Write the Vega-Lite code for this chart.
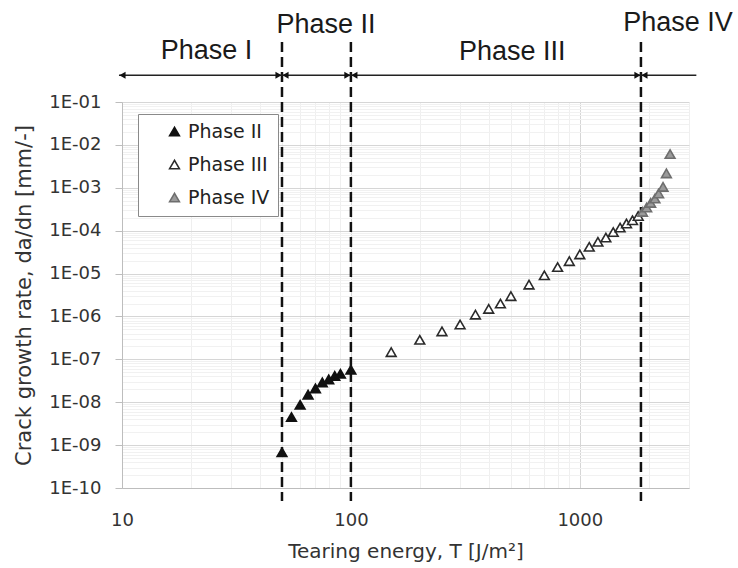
{
  "$schema": "https://vega.github.io/schema/vega-lite/v6.json",
  "width": 567,
  "height": 386,
  "autosize": {"type": "none"},
  "padding": {"left": 122, "top": 102, "right": 49, "bottom": 80},
  "background": "white",
  "config": {"view": {"stroke": null}, "font": "DejaVu Sans"},
  "datasets": {
    "pts": [
      {"T": 50, "dadn": 6.8e-10, "phase": "Phase II"},
      {"T": 55, "dadn": 4.5e-9, "phase": "Phase II"},
      {"T": 60, "dadn": 8.7e-9, "phase": "Phase II"},
      {"T": 65, "dadn": 1.5e-8, "phase": "Phase II"},
      {"T": 70, "dadn": 2.1e-8, "phase": "Phase II"},
      {"T": 75, "dadn": 2.9e-8, "phase": "Phase II"},
      {"T": 80, "dadn": 3.4e-8, "phase": "Phase II"},
      {"T": 85, "dadn": 4.1e-8, "phase": "Phase II"},
      {"T": 90, "dadn": 4.6e-8, "phase": "Phase II"},
      {"T": 100, "dadn": 5.7e-8, "phase": "Phase II"},
      {"T": 150, "dadn": 1.47e-7, "phase": "Phase III"},
      {"T": 200, "dadn": 2.86e-7, "phase": "Phase III"},
      {"T": 250, "dadn": 4.47e-7, "phase": "Phase III"},
      {"T": 300, "dadn": 6.5e-7, "phase": "Phase III"},
      {"T": 350, "dadn": 1.1e-6, "phase": "Phase III"},
      {"T": 400, "dadn": 1.5e-6, "phase": "Phase III"},
      {"T": 450, "dadn": 2.0e-6, "phase": "Phase III"},
      {"T": 500, "dadn": 2.98e-6, "phase": "Phase III"},
      {"T": 600, "dadn": 5.5e-6, "phase": "Phase III"},
      {"T": 700, "dadn": 9.1e-6, "phase": "Phase III"},
      {"T": 800, "dadn": 1.42e-5, "phase": "Phase III"},
      {"T": 900, "dadn": 1.95e-5, "phase": "Phase III"},
      {"T": 1000, "dadn": 2.8e-5, "phase": "Phase III"},
      {"T": 1100, "dadn": 4.2e-5, "phase": "Phase III"},
      {"T": 1200, "dadn": 5.5e-5, "phase": "Phase III"},
      {"T": 1300, "dadn": 6.9e-5, "phase": "Phase III"},
      {"T": 1400, "dadn": 9.3e-5, "phase": "Phase III"},
      {"T": 1500, "dadn": 1.18e-4, "phase": "Phase III"},
      {"T": 1600, "dadn": 1.47e-4, "phase": "Phase III"},
      {"T": 1700, "dadn": 1.75e-4, "phase": "Phase III"},
      {"T": 1800, "dadn": 2.2e-4, "phase": "Phase III"},
      {"T": 1880, "dadn": 2.74e-4, "phase": "Phase IV"},
      {"T": 1960, "dadn": 3.47e-4, "phase": "Phase IV"},
      {"T": 2040, "dadn": 4.43e-4, "phase": "Phase IV"},
      {"T": 2130, "dadn": 5.62e-4, "phase": "Phase IV"},
      {"T": 2210, "dadn": 7.36e-4, "phase": "Phase IV"},
      {"T": 2310, "dadn": 1.05e-3, "phase": "Phase IV"},
      {"T": 2390, "dadn": 2.16e-3, "phase": "Phase IV"},
      {"T": 2480, "dadn": 6.1e-3, "phase": "Phase IV"}
    ],
    "bounds": [
      {"T": 50, "dadn": 2.5, "bottom": 5e-11},
      {"T": 100, "dadn": 2.5, "bottom": 5e-11},
      {"T": 1850, "dadn": 2.5, "bottom": 5e-11}
    ],
    "arrow": [{"T": 9.7, "T2": 3230, "dadn": 0.42}],
    "headsR": [
      {"T": 50, "dadn": 0.42},
      {"T": 100, "dadn": 0.42},
      {"T": 1850, "dadn": 0.42}
    ],
    "headsL": [
      {"T": 9.7, "dadn": 0.42},
      {"T": 50, "dadn": 0.42},
      {"T": 100, "dadn": 0.42},
      {"T": 1850, "dadn": 0.42}
    ],
    "labels": [
      {"T": 23.4, "dadn": 1.0, "text": "Phase I"},
      {"T": 77.8, "dadn": 4.16, "text": "Phase II"},
      {"T": 507, "dadn": 0.96, "text": "Phase III"},
      {"T": 2686, "dadn": 4.64, "text": "Phase IV"}
    ]
  },
  "layer": [
    {
      "data": {"name": "bounds"},
      "mark": {"type": "rule", "strokeDash": [10, 5], "strokeWidth": 2.5, "color": "#111111"},
      "encoding": {
        "x": {"field": "T", "type": "quantitative", "scale": {"type": "log"}},
        "y": {"field": "dadn", "type": "quantitative", "scale": {"type": "log"}},
        "y2": {"field": "bottom"}
      }
    },
    {
      "data": {"name": "arrow"},
      "mark": {"type": "rule", "strokeWidth": 1.5, "color": "#222222"},
      "encoding": {
        "x": {"field": "T", "type": "quantitative", "scale": {"type": "log"}},
        "x2": {"field": "T2"},
        "y": {"field": "dadn", "type": "quantitative", "scale": {"type": "log"}}
      }
    },
    {
      "data": {"name": "headsR"},
      "mark": {"type": "point", "shape": "triangle-right", "filled": true, "size": 50, "color": "#111111", "opacity": 1, "xOffset": -3.5},
      "encoding": {
        "x": {"field": "T", "type": "quantitative", "scale": {"type": "log"}},
        "y": {"field": "dadn", "type": "quantitative", "scale": {"type": "log"}}
      }
    },
    {
      "data": {"name": "headsL"},
      "mark": {"type": "point", "shape": "triangle-left", "filled": true, "size": 50, "color": "#111111", "opacity": 1, "xOffset": 3.5},
      "encoding": {
        "x": {"field": "T", "type": "quantitative", "scale": {"type": "log"}},
        "y": {"field": "dadn", "type": "quantitative", "scale": {"type": "log"}}
      }
    },
    {
      "data": {"name": "labels"},
      "mark": {"type": "text", "font": "Liberation Sans", "fontSize": 27, "align": "center", "baseline": "alphabetic", "color": "#1a1a1a"},
      "encoding": {
        "x": {"field": "T", "type": "quantitative", "scale": {"type": "log"}},
        "y": {"field": "dadn", "type": "quantitative", "scale": {"type": "log"}},
        "text": {"field": "text", "type": "nominal"}
      }
    },
    {
      "data": {"name": "pts"},
      "mark": {"type": "point", "shape": "triangle-up", "filled": true, "size": 95, "strokeWidth": 1.6, "opacity": 1},
      "encoding": {
        "x": {
          "field": "T", "type": "quantitative",
          "scale": {"type": "log", "domain": [10, 3000], "nice": false},
          "axis": {
            "title": "Tearing energy, T [J/m²]",
            "values": [10, 20, 30, 40, 50, 60, 70, 80, 90, 100, 200, 300, 400, 500, 600, 700, 800, 900, 1000, 2000, 3000],
            "grid": true,
            "gridColor": {"condition": {"test": "abs(log(datum.value)/LN10 - round(log(datum.value)/LN10)) < 0.001", "value": "#d6d6d6"}, "value": "#efefef"},
            "ticks": false,
            "tickSize": 0,
            "domainColor": "#bdbdbd",
            "format": "d",
            "labelExpr": "abs(log(datum.value)/LN10 - round(log(datum.value)/LN10)) < 0.001 ? datum.label : ''",
            "labelOverlap": false,
            "labelFlush": false,
            "labelFont": "DejaVu Sans",
            "labelFontSize": 18,
            "labelColor": "#333333",
            "labelPadding": 23,
            "titleFont": "DejaVu Sans",
            "titleFontSize": 20,
            "titleFontWeight": "normal",
            "titleColor": "#333333",
            "titlePadding": 12
          }
        },
        "y": {
          "field": "dadn", "type": "quantitative",
          "scale": {"type": "log", "domain": [1e-10, 0.1], "nice": false},
          "axis": {
            "title": "Crack growth rate, da/dn [mm/-]",
            "values": [1e-10, 2e-10, 3e-10, 4e-10, 5e-10, 6e-10, 7e-10, 8e-10, 9e-10,
                       1e-9, 2e-9, 3e-9, 4e-9, 5e-9, 6e-9, 7e-9, 8e-9, 9e-9,
                       1e-8, 2e-8, 3e-8, 4e-8, 5e-8, 6e-8, 7e-8, 8e-8, 9e-8,
                       1e-7, 2e-7, 3e-7, 4e-7, 5e-7, 6e-7, 7e-7, 8e-7, 9e-7,
                       1e-6, 2e-6, 3e-6, 4e-6, 5e-6, 6e-6, 7e-6, 8e-6, 9e-6,
                       1e-5, 2e-5, 3e-5, 4e-5, 5e-5, 6e-5, 7e-5, 8e-5, 9e-5,
                       1e-4, 2e-4, 3e-4, 4e-4, 5e-4, 6e-4, 7e-4, 8e-4, 9e-4,
                       1e-3, 2e-3, 3e-3, 4e-3, 5e-3, 6e-3, 7e-3, 8e-3, 9e-3,
                       1e-2, 2e-2, 3e-2, 4e-2, 5e-2, 6e-2, 7e-2, 8e-2, 9e-2, 0.1],
            "grid": true,
            "gridColor": {"condition": {"test": "abs(log(datum.value)/LN10 - round(log(datum.value)/LN10)) < 0.001", "value": "#d6d6d6"}, "value": "#f1f1f1"},
            "tickSize": 7,
            "tickColor": "#bdbdbd",
            "tickOpacity": {"condition": {"test": "abs(log(datum.value)/LN10 - round(log(datum.value)/LN10)) < 0.001", "value": 1}, "value": 0},
            "domainColor": "#bdbdbd",
            "labelExpr": "abs(log(datum.value)/LN10 - round(log(datum.value)/LN10)) < 0.001 ? '1E-' + (round(-log(datum.value)/LN10) < 10 ? '0' : '') + round(-log(datum.value)/LN10) : ''",
            "labelOverlap": false,
            "labelFont": "DejaVu Sans",
            "labelFontSize": 18,
            "labelColor": "#333333",
            "labelPadding": 14,
            "titleFont": "DejaVu Sans",
            "titleFontSize": 21,
            "titleFontWeight": "normal",
            "titleColor": "#333333",
            "titlePadding": 14
          }
        },
        "fill": {
          "field": "phase", "type": "nominal",
          "scale": {"domain": ["Phase II", "Phase III", "Phase IV"], "range": ["#111111", "#ffffff", "#9a9a9a"]},
          "legend": {"title": null, "orient": "none", "legendX": 16, "legendY": 12, "padding": 8, "strokeColor": "#8a8a8a", "fillColor": "white", "symbolType": "triangle-up", "symbolSize": 95, "symbolStrokeWidth": 1.6, "symbolOffset": 19, "labelOffset": 4, "labelFont": "DejaVu Sans", "labelFontSize": 19, "labelColor": "#222222", "rowPadding": 13, "labelExpr": "datum.label + '\u2003\u2003\u2003\u2002'"}
        },
        "stroke": {
          "field": "phase", "type": "nominal",
          "scale": {"domain": ["Phase II", "Phase III", "Phase IV"], "range": ["#111111", "#2a2a2a", "#6e6e6e"]},
          "legend": {"title": null, "orient": "none", "legendX": 16, "legendY": 12, "padding": 8, "strokeColor": "#8a8a8a", "fillColor": "white", "symbolType": "triangle-up", "symbolSize": 95, "symbolStrokeWidth": 1.6, "symbolOffset": 19, "labelOffset": 4, "labelFont": "DejaVu Sans", "labelFontSize": 19, "labelColor": "#222222", "rowPadding": 13, "labelExpr": "datum.label + '\u2003\u2003\u2003\u2002'"}
        }
      }
    }
  ]
}
